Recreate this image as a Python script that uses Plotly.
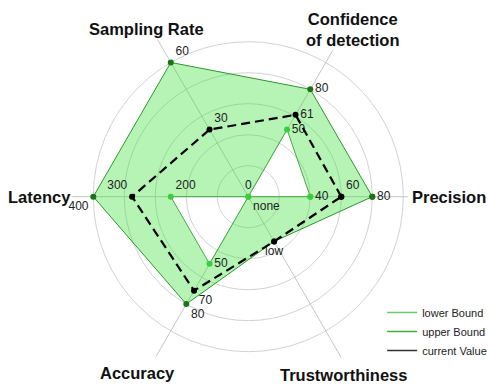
import math
import plotly.graph_objects as go

# Radar axes, their angles (degrees, counter-clockwise from the right) and scale maxima
axes = ["Precision", "Confidence<br>of detection", "Sampling Rate", "Latency", "Accuracy", "Trustworthiness"]
angles = [0, 60, 120, 180, 240, 300]
axis_max = [100, 100, 60, 400, 100, None]
trust_levels = ["none", "low", "medium", "high"]

# Series values per axis (last entry is a Trustworthiness level)
lower_bound = [40, 50, 0, 200, 50, "none"]
upper_bound = [80, 80, 60, 400, 80, "low"]
current_value = [60, 61, 30, 300, 70, "low"]

# Label placement around each point
lower_pos = ["middle right", "middle right", "top center", "top right", "middle right", "bottom right"]
upper_pos = ["middle right", "middle right", "top right", "bottom left", "bottom right", "bottom center"]
current_pos = ["top right", "middle right", "top right", "top left", "bottom right", "bottom center"]

# Spoke lengths and axis-title placement in normalised radius units
spoke_len = [1.03, 1.09, 1.17, 1.14, 1.19, 1.2]
title_r = [1.297, 1.273, 1.263, 1.346, 1.344, 1.303]
title_theta = [0, 58, 121.3, 180, 238, 298]

W, H = 489, 385
R_MAX = 1.2
DOM_X = [0.1274, 0.8881]
DOM_Y = [0.006, 0.9722]


def normalise(values):
    out = []
    for v, m in zip(values, axis_max):
        if m is None:
            out.append(trust_levels.index(v) / (len(trust_levels) - 1))
        else:
            out.append(v / m)
    return out


def closed(seq):
    return list(seq) + [seq[0]]


fig = go.Figure()

# Spokes
sr, st = [], []
for a, L in zip(angles, spoke_len):
    sr += [0, L, None]
    st += [a, a, None]
fig.add_trace(go.Scatterpolar(r=sr, theta=st, mode="lines",
                              line=dict(color="#c4c4c4", width=1),
                              hoverinfo="skip", showlegend=False))

labelled = set()


def labels(values, key_r):
    txt = []
    for v, rr, a in zip(values, key_r, angles):
        key = (round(rr, 4), a) if rr > 0 else (0, 0, str(v))
        if key in labelled:
            txt.append("")
        else:
            labelled.add(key)
            txt.append(str(v))
    return txt


r_cur = normalise(current_value)
r_low = normalise(lower_bound)
r_up = normalise(upper_bound)
t_cur = labels(current_value, r_cur)
t_low = labels(lower_bound, r_low)
t_up = labels(upper_bound, r_up)

label_font = dict(family="Liberation Sans, Arial, sans-serif", size=12, color="#222")

fig.add_trace(go.Scatterpolar(
    r=closed(r_low), theta=closed(angles), name="lower Bound",
    mode="lines+markers+text", text=t_low + [""], textposition=lower_pos + ["middle right"],
    textfont=label_font,
    line=dict(color="rgb(70,170,70)", width=1),
    marker=dict(color="rgb(60,205,60)", size=6),
    hoverinfo="skip", showlegend=False))

fig.add_trace(go.Scatterpolar(
    r=closed(r_up), theta=closed(angles), name="upper Bound",
    mode="lines+markers+text", text=t_up + [""], textposition=upper_pos + ["middle right"],
    textfont=label_font,
    fill="tonext", fillcolor="rgba(60,225,60,0.38)",
    line=dict(color="rgb(45,150,45)", width=1),
    marker=dict(color="rgb(25,115,25)", size=6),
    hoverinfo="skip", showlegend=False))

fig.add_trace(go.Scatterpolar(
    r=closed(r_cur), theta=closed(angles), name="current Value",
    mode="lines+markers+text", text=t_cur + [""], textposition=current_pos + ["middle right"],
    textfont=label_font,
    line=dict(color="black", width=2.2, dash="9px,5px"),
    marker=dict(color="black", size=6),
    hoverinfo="skip", showlegend=False))

# Legend entries (plain line keys)
for name, col in [("lower Bound", "rgb(110,200,110)"),
                  ("upper Bound", "rgb(60,175,60)"),
                  ("current Value", "#333")]:
    fig.add_trace(go.Scatterpolar(r=[None], theta=[None], mode="lines", name=name,
                                  line=dict(color=col, width=1.5), hoverinfo="skip"))

# Axis titles placed along each spoke, outside the grid
cx = (DOM_X[0] + DOM_X[1]) / 2
cy = (DOM_Y[0] + DOM_Y[1]) / 2
scale_px = (DOM_X[1] - DOM_X[0]) * W / 2 / R_MAX
for name, rr, th in zip(axes, title_r, title_theta):
    rad = math.radians(th)
    fig.add_annotation(
        x=cx + rr * scale_px * math.cos(rad) / W,
        y=cy + rr * scale_px * math.sin(rad) / H,
        xref="paper", yref="paper", text=name, showarrow=False,
        xanchor="center", yanchor="middle",
        font=dict(family="Liberation Sans, Arial, sans-serif", size=16.5, color="#111", weight="bold"))

fig.update_layout(
    width=W, height=H,
    margin=dict(l=0, r=0, t=0, b=0, autoexpand=False),
    paper_bgcolor="white",
    font=dict(family="Liberation Sans, Arial, sans-serif"),
    polar=dict(
        domain=dict(x=DOM_X, y=DOM_Y),
        bgcolor="white",
        radialaxis=dict(range=[0, R_MAX], tickvals=[0.2, 0.4, 0.6, 0.8, 1.0],
                        showticklabels=False, showline=False, ticks="",
                        gridcolor="#d2d2d2", gridwidth=1),
        angularaxis=dict(direction="counterclockwise", rotation=0, thetaunit="degrees",
                         showgrid=False, showline=False, showticklabels=False, ticks=""),
    ),
    legend=dict(x=0.7815, y=0.226, xanchor="left", yanchor="top",
                bgcolor="rgba(0,0,0,0)", font=dict(size=11, color="#222"),
                traceorder="normal"),
)

fig.write_html("out.html")
